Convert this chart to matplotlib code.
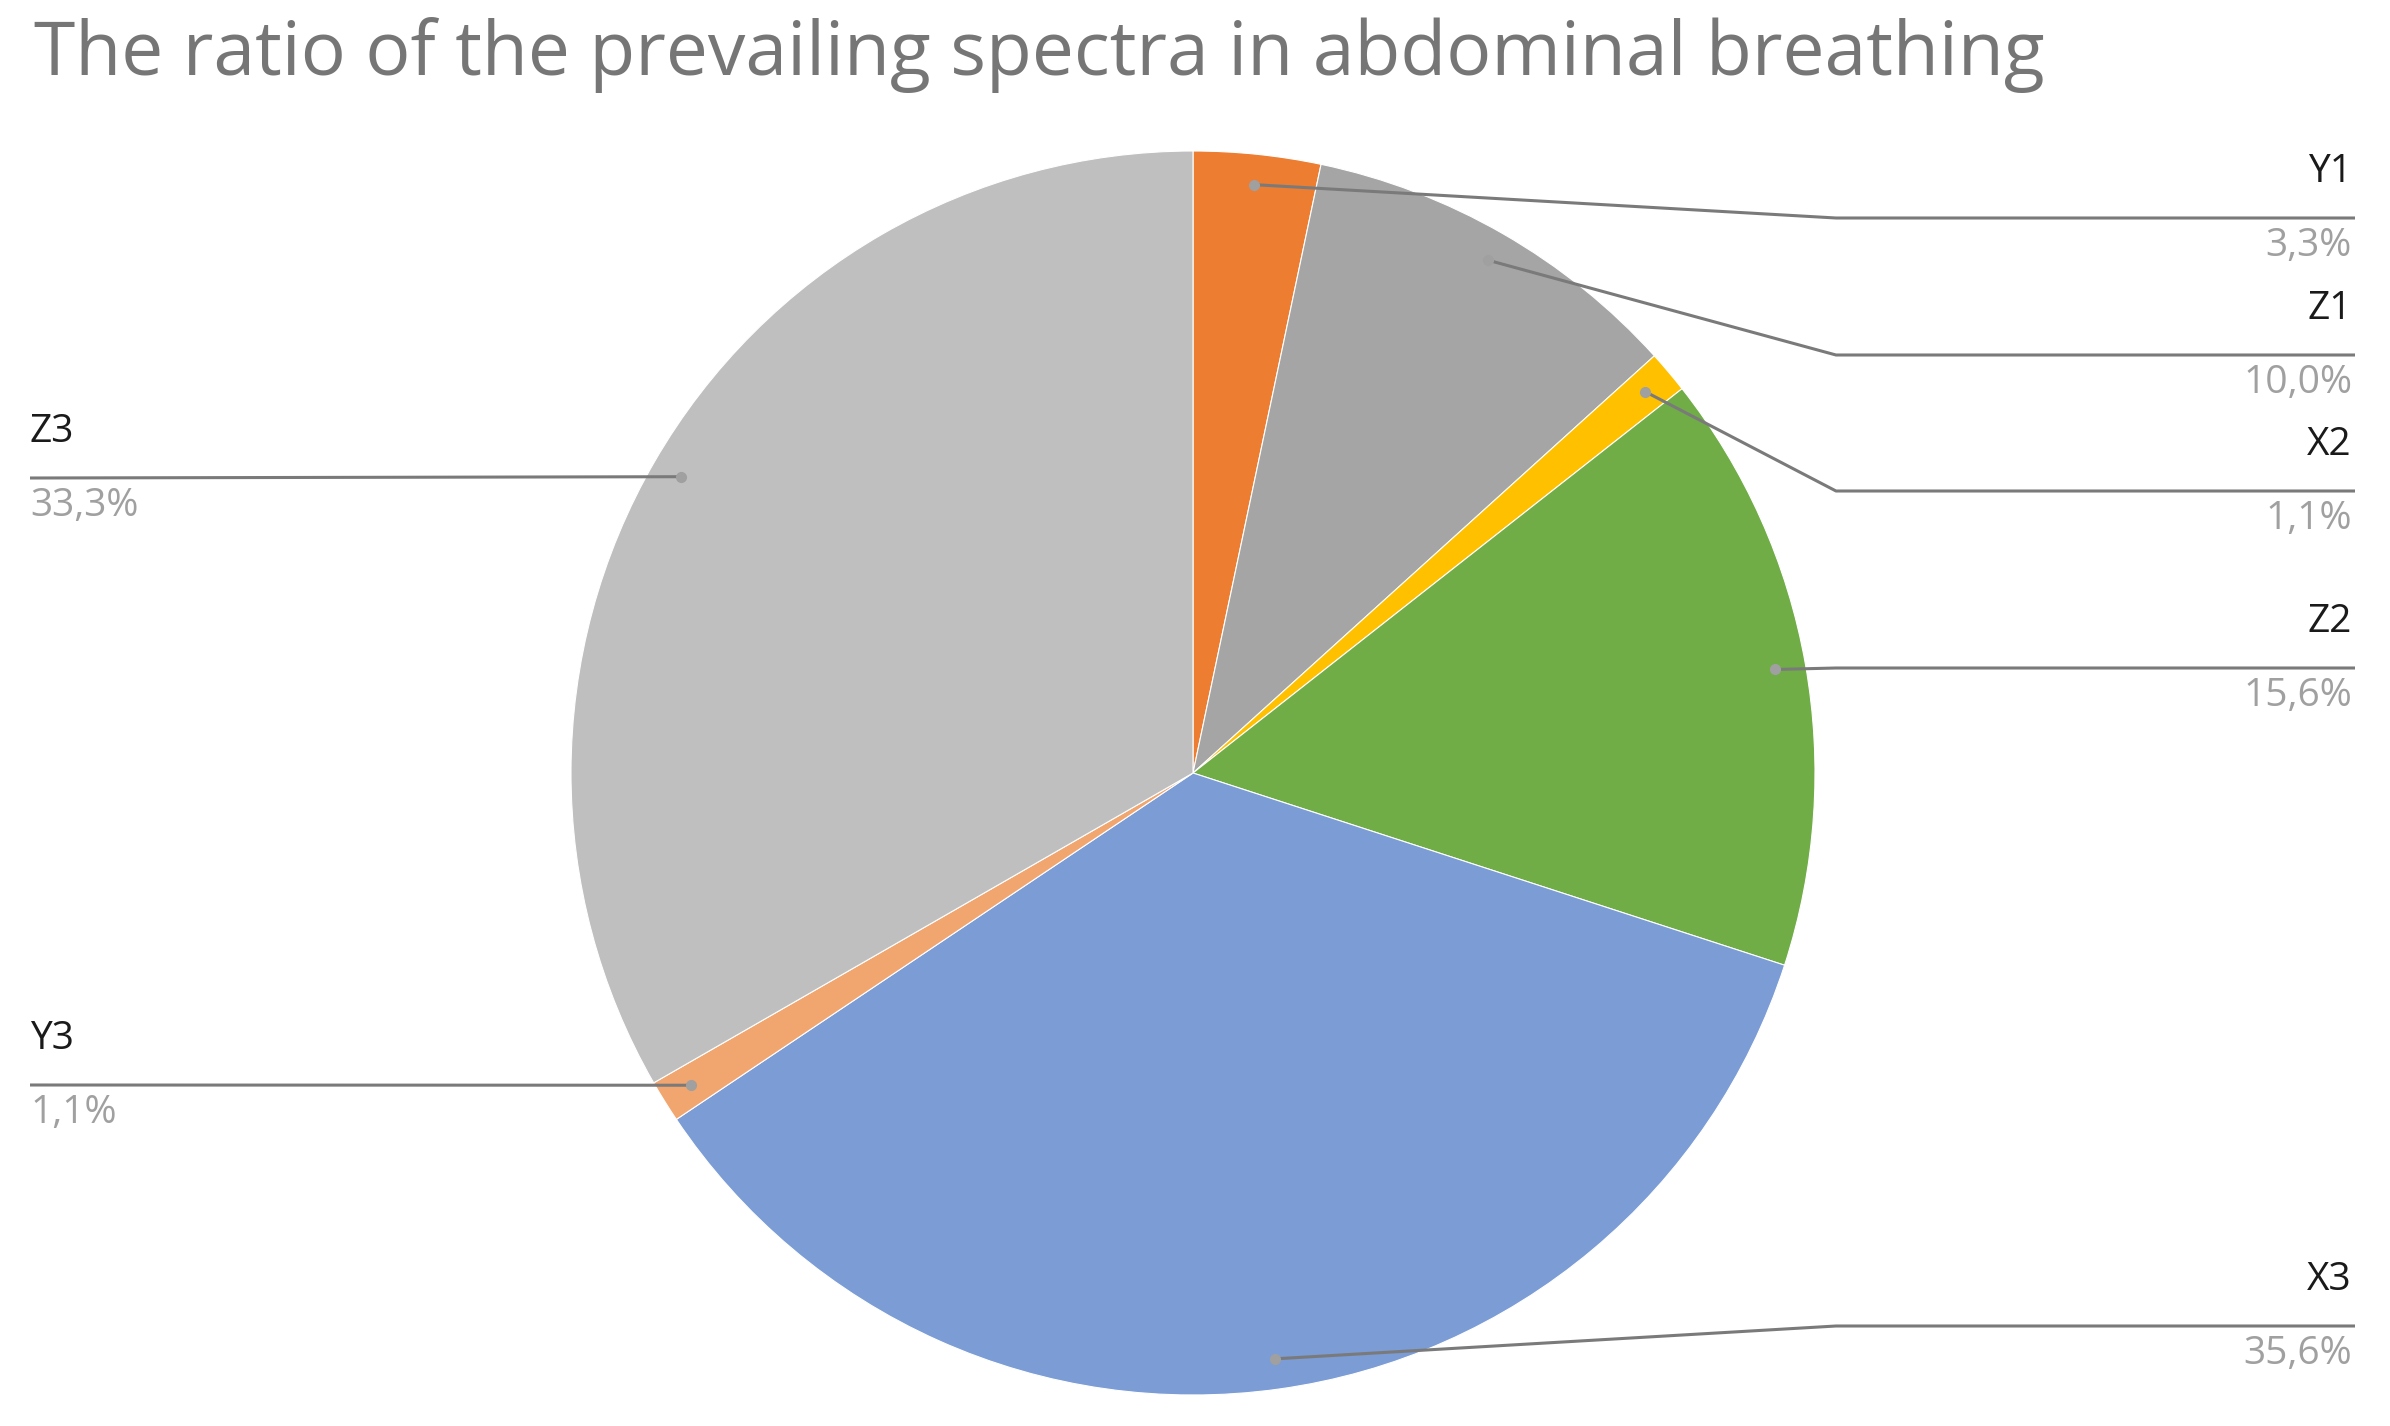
import numpy as np
import matplotlib.pyplot as plt

labels = ['Y1', 'Z1', 'X2', 'Z2', 'X3', 'Y3', 'Z3']
values = [3.3, 10.0, 1.1, 15.6, 35.6, 1.1, 33.3]
colors = ['#ED7D31', '#A5A5A5', '#FFC000', '#70AD47', '#7B9CD5', '#F1A56F', '#BFBFBF']
title = 'The ratio of the prevailing spectra in abdominal breathing'

# label layout (pixels from top): side, y of the leader's horizontal part
label_side = ['right', 'right', 'right', 'right', 'right', 'left', 'left']
label_line_y = [218, 355, 491, 668, 1326, 1085, 478]

W, H = 2390, 1426
cx, cy, R = 1193, H - 773, 622

plt.rcParams['font.family'] = ['Open Sans', 'DejaVu Sans']

fig = plt.figure(figsize=(W / 100, H / 100), dpi=100)
ax = fig.add_axes([0, 0, 1, 1])
ax.pie(values, colors=colors, startangle=90, counterclock=False,
       center=(cx, cy), radius=R,
       wedgeprops=dict(edgecolor='white', linewidth=0.8))
ax.set_xlim(0, W)
ax.set_ylim(0, H)
ax.set_aspect('equal')
ax.axis('off')

fig.text(34 / W, 1 - 55 / H, title, fontsize=54, color='#767676',
         ha='left', va='center')

cum = np.cumsum([0] + values[:-1])
for lab, v, c0, side, ly in zip(labels, values, cum, label_side, label_line_y):
    ang = np.deg2rad(90 - (c0 + v / 2) * 3.6)
    ax_ = cx + 0.951 * R * np.cos(ang)
    ay_ = cy + 0.951 * R * np.sin(ang)
    y = H - ly
    if side == 'right':
        ex, endx = max(1836, ax_), 2355
        ax.plot([ax_, ex, endx], [ay_, y, y], color='#7A7A7A', lw=2.2,
                solid_capstyle='butt', zorder=3)
        tx, ha = 2352, 'right'
    else:
        endx = 30
        ax.plot([ax_, endx], [ay_, y], color='#7A7A7A', lw=2.2,
                solid_capstyle='butt', zorder=3)
        tx, ha = 30, 'left'
    ax.plot(ax_, ay_, 'o', color='#A0A0A0', ms=7, zorder=4)
    ax.text(tx, y + 46, lab, fontsize=28, color='#1A1A1A', ha=ha, va='center')
    pct = f'{v:.1f}'.replace('.', ',') + '%'
    ax.text(tx, y - 28, pct, fontsize=28, color='#A0A0A0', ha=ha, va='center')

fig.savefig('out.png', dpi=100)
